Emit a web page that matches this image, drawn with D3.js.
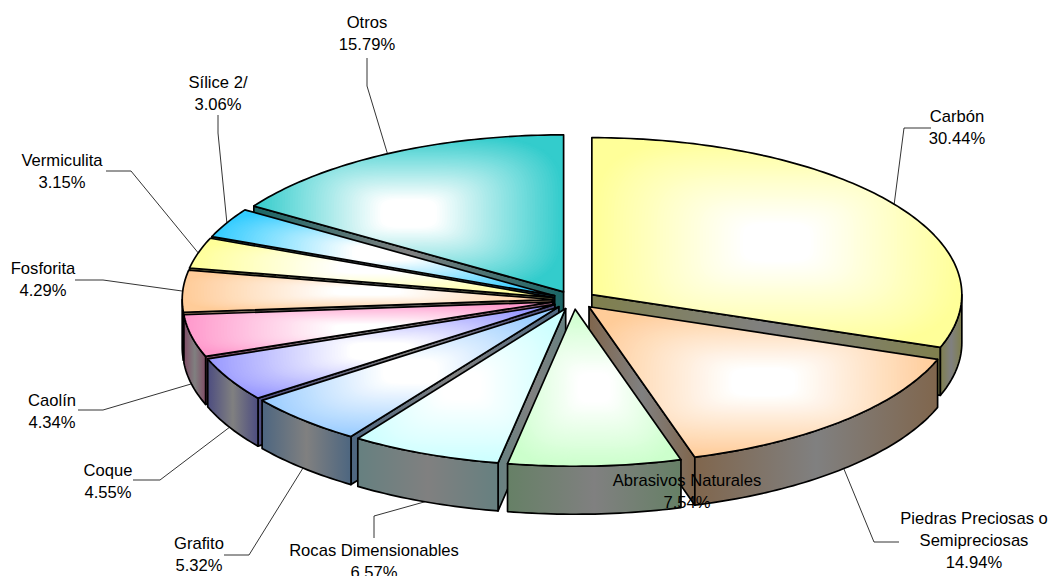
<!DOCTYPE html>
<html><head><meta charset="utf-8">
<script src="https://cdn.jsdelivr.net/npm/d3@7/dist/d3.min.js"></script>
<style>html,body{margin:0;padding:0;background:#fff}svg{display:block}text{font-family:"Liberation Sans",Arial,sans-serif;font-size:16.6px;fill:#000}</style>
</head><body><svg id="c" width="1052" height="576"></svg>
<script>
const categories = ["Carbón","Piedras Preciosas o Semipreciosas","Abrasivos Naturales","Rocas Dimensionables","Grafito","Coque","Caolín","Fosforita","Vermiculita","Sílice 2/","Otros"];
const shares = [30.44,14.94,7.54,6.57,5.32,4.55,4.34,4.29,3.15,3.06,15.79];
const colors = ["#FFFF99","#FFCC99","#CCFFCC","#CCFFFF","#99CCFF","#9999FF","#FF99CC","#FFCC99","#FFFF99","#33CCFF","#33CCCC"];
// label layout: wrapped text lines, text centre x, first-line y, leader elbow points
const labelLines = [["Carbón"],["Piedras Preciosas o","Semipreciosas"],["Abrasivos Naturales"],["Rocas Dimensionables"],["Grafito"],["Coque"],["Caolín"],["Fosforita"],["Vermiculita"],["Sílice 2/"],["Otros"]];
const labelAt = [[957,117],[974,519],[687,481],[374,551],[199,544],[108,471],[52,401],[43,269],[62,161],[218,83],[367,23]];
const leaders = [[[904,128],[931,128]],[[874,542],[899,542]],null,[[374,516],[374,538]],[[249,555],[224,555]],[[160,480],[133,480]],[[103,410],[78,410]],[[103,280],[75,280]],[[131,171],[106,171]],[[218,133],[218,115]],[[367,86],[367,58]]];

const svg = d3.select("#c"), defs = svg.append("defs");
const X = d3.scaleLinear([-1,1],[574-370,574+370]);
const Y = d3.scaleLinear([-1,1],[300+157,300-157]);
const depth = 48, explode = 0.059, strokeW = 1.7, shadeSteps = 60;
const arcs = d3.pie().sort(null).startAngle(0).endAngle(2*Math.PI).value(d=>d)(shares);
const line = d3.line();
const DEG = Math.PI/180;

const slices = arcs.map((a,i)=>{
  const mid=(a.startAngle+a.endAngle)/2;
  const ox=explode*Math.sin(mid), oy=explode*Math.cos(mid);
  const pt=(ang,r=1)=>[X(ox+r*Math.sin(ang)),Y(oy+r*Math.cos(ang))];
  return {i,mid,start:a.startAngle,end:a.endAngle,pt,apex:pt(0,0)};
});
function arcPts(s,a0,a1){
  const n=Math.max(2,Math.ceil((a1-a0)/DEG));
  return d3.range(n+1).map(k=>s.pt(a0+(a1-a0)*k/n));
}
const down=p=>[p[0],p[1]+depth];
function mix(hex){const c=d3.rgb(hex);return d3.rgb(c.r*.5,c.g*.5,c.b*.5).formatHex();}

let gid=0;
function wallFill(pts,color){
  const xs=d3.extent(pts,p=>p[0]);
  const id="w"+(gid++);
  const g=defs.append("linearGradient").attr("id",id).attr("gradientUnits","userSpaceOnUse")
    .attr("x1",xs[0]).attr("x2",xs[1]).attr("y1",0).attr("y2",0);
  const d=mix(color);
  g.append("stop").attr("offset",0).attr("stop-color",d);
  g.append("stop").attr("offset",.5).attr("stop-color","#808080");
  g.append("stop").attr("offset",1).attr("stop-color",d);
  return `url(#${id})`;
}
function drawWall(g,pts,color){
  g.append("path").attr("d",line(pts)+"Z").attr("fill",wallFill(pts,color))
   .attr("stroke","#000").attr("stroke-width",strokeW).attr("stroke-linejoin","round");
}
// top face: white centre fading to the slice colour at its bounding box, as nested rounded boxes
function drawTop(g,pts,color,i){
  const x=d3.extent(pts,p=>p[0]), y=d3.extent(pts,p=>p[1]);
  const cx=(x[0]+x[1])/2, cy=(y[0]+y[1])/2, hw=(x[1]-x[0])/2, hh=(y[1]-y[0])/2;
  const cid="clip"+i, d=line(pts)+"Z";
  defs.append("clipPath").attr("id",cid).append("path").attr("d",d);
  const cg=g.append("g").attr("clip-path",`url(#${cid})`);
  const shade=d3.interpolateRgb(color,"#fff");
  cg.append("path").attr("d",d).attr("fill",color);
  const p=4;
  d3.range(shadeSteps).forEach(k=>{
    const f=1-k/shadeSteps;
    const box=d3.range(0,360,4).map(t=>{
      const c=Math.cos(t*DEG), s=Math.sin(t*DEG);
      return [cx+f*hw*Math.sign(c)*Math.pow(Math.abs(c),2/p), cy+f*hh*Math.sign(s)*Math.pow(Math.abs(s),2/p)];
    });
    cg.append("path").attr("d",line(box)+"Z").attr("fill",shade(Math.min(1,(1-f)/0.82)));
  });
  g.append("path").attr("d",d).attr("fill","none").attr("stroke","#000").attr("stroke-width",strokeW).attr("stroke-linejoin","round");
}

const order=slices.slice().sort((a,b)=>Math.cos(b.mid)-Math.cos(a.mid));
const pieG=svg.append("g");
order.forEach(s=>{
  const color=colors[s.i], g=pieG.append("g");
  // only the radial walls that face the viewer
  if(Math.sin(s.start)<-1e-6){const e=s.pt(s.start);drawWall(g,[s.apex,e,down(e),down(s.apex)],color);}
  if(Math.sin(s.end)>1e-6){const e=s.pt(s.end);drawWall(g,[s.apex,e,down(e),down(s.apex)],color);}
  const a0=Math.max(s.start,Math.PI/2), a1=Math.min(s.end,1.5*Math.PI);
  if(a1>a0){
    const top=arcPts(s,a0,a1);
    drawWall(g,top.concat(top.slice().reverse().map(down)),color);
  }
  drawTop(g,[s.apex].concat(arcPts(s,s.start,s.end)),color,s.i);
});

// leaders
const lg=svg.append("g");
slices.forEach(s=>{
  const l=leaders[s.i]; if(!l) return;
  const p=s.pt(s.mid);
  const front=Math.cos(s.mid)<-0.02;
  const a=front?down(p):p;
  lg.append("path").attr("d",line([a].concat(l))).attr("fill","none").attr("stroke","#000").attr("stroke-width",.8);
});
// labels
const fmt=d3.format(".2f");
slices.forEach(s=>{
  const lines=labelLines[s.i].concat([fmt(shares[s.i])+"%"]);
  const [x,y]=labelAt[s.i];
  const t=svg.append("text").attr("text-anchor","middle");
  lines.forEach((txt,k)=>t.append("tspan").attr("x",x).attr("y",y+5+k*22).text(txt));
});
</script></body></html>
